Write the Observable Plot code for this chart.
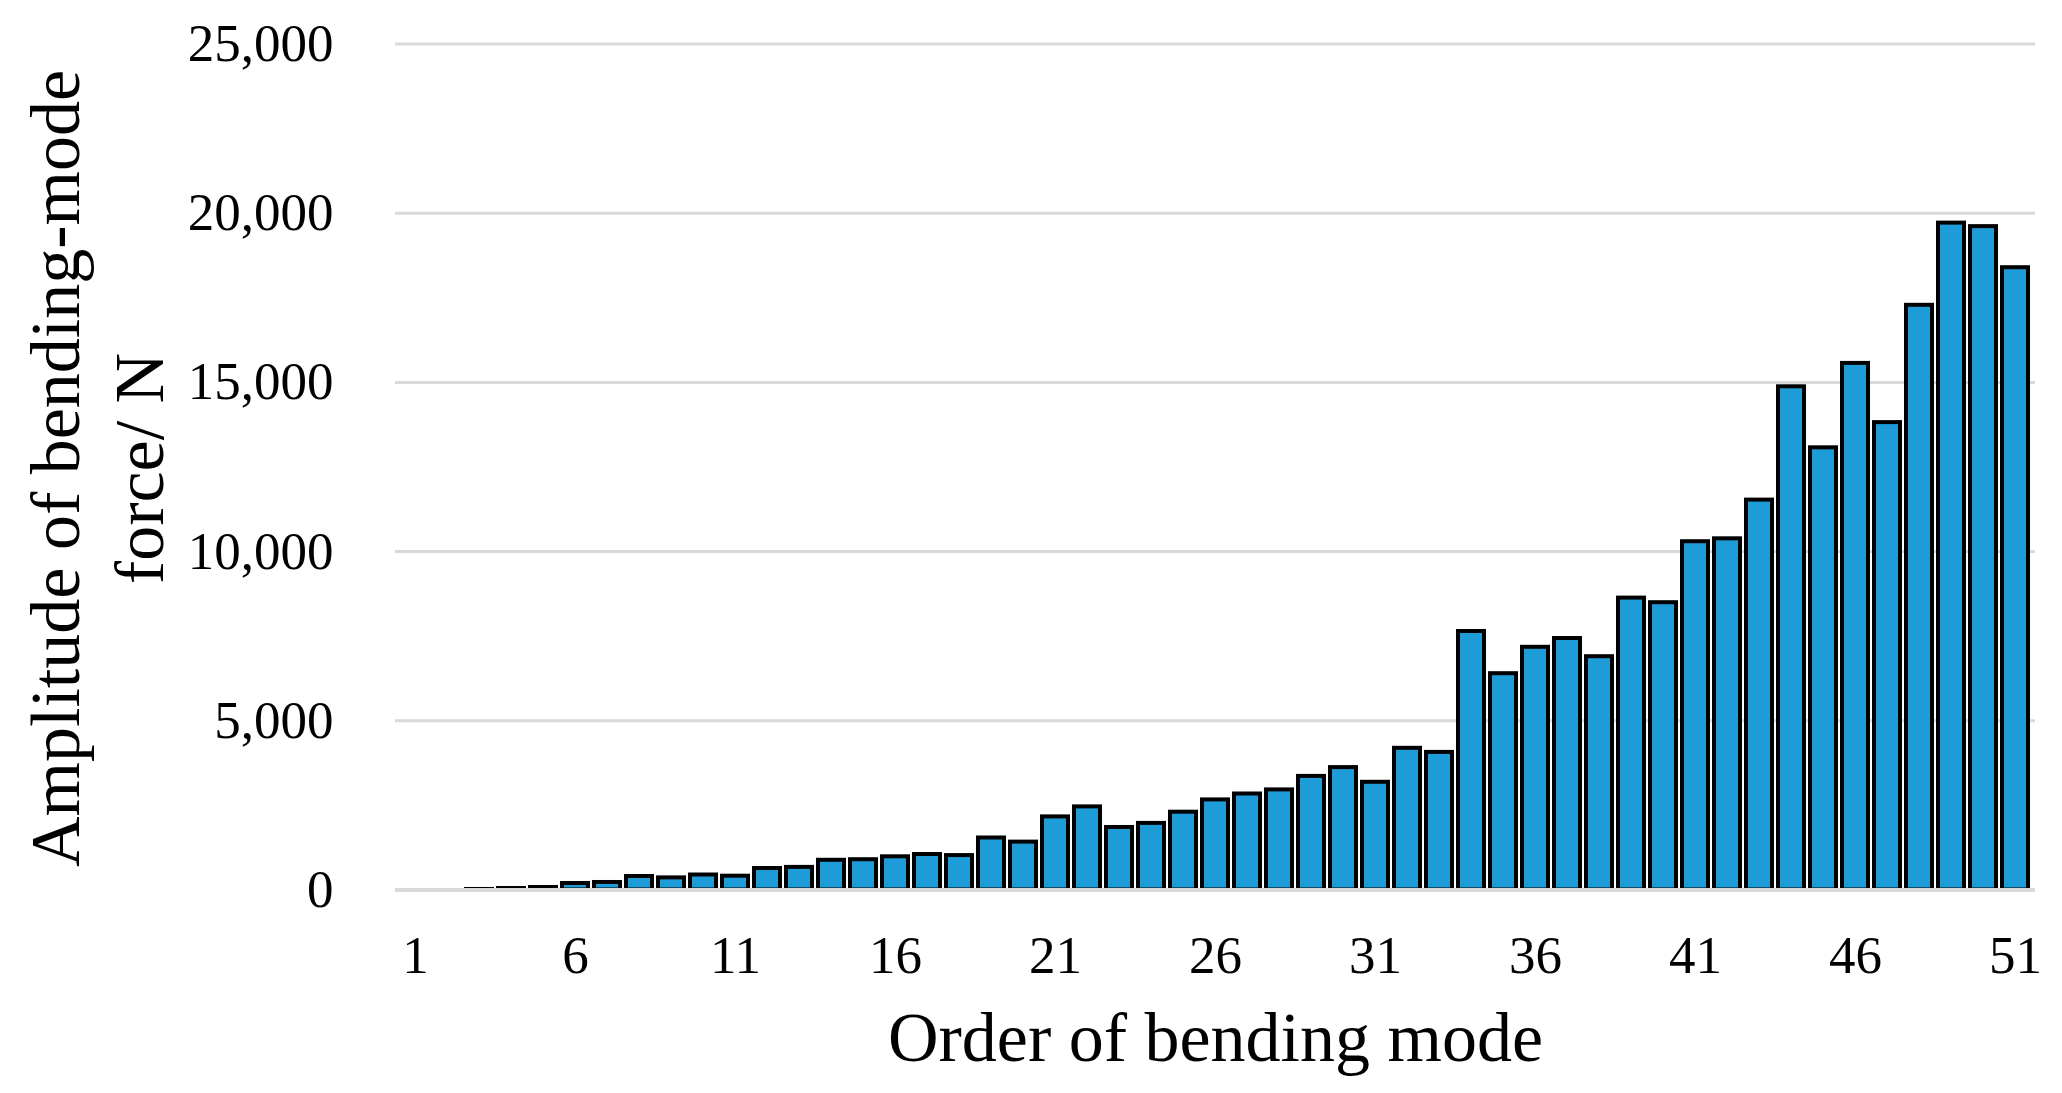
<!DOCTYPE html>
<html>
<head>
<meta charset="utf-8">
<script src="https://cdn.jsdelivr.net/npm/d3@7"></script>
<script src="https://cdn.jsdelivr.net/npm/@observablehq/plot@0.6"></script>
<style>
  html, body { margin: 0; padding: 0; background: #fff; overflow: hidden; }
</style>
</head>
<body>
<div id="chart"></div>
<script>
// Order of bending mode (categories)
const orders = Array.from({length: 51}, (_, i) => i + 1);
// Amplitude of bending-mode force / N
const amplitudes = [
  0, 0, 15, 44, 74, 192, 222, 399, 358, 443,
  408, 635, 668, 878, 895, 981, 1049, 1017, 1537, 1415,
  2160, 2456, 1847, 1968, 2299, 2662, 2837, 2958, 3357, 3617,
  3183, 4187, 4066, 7639, 6392, 7172, 7432, 6894, 8626, 8490,
  10292, 10378, 11522, 14870, 13067, 15561, 13812, 17278, 19707, 19603,
  18389
];
const xTicks = [1, 6, 11, 16, 21, 26, 31, 36, 41, 46, 51];
const yTicks = [0, 5000, 10000, 15000, 20000, 25000];
const xTitle = "Order of bending mode";
const yTitle = "Amplitude of bending-mode\nforce/ N";

const data = orders.map((o, i) => ({order: o, value: amplitudes[i]}));
const serif = "'Liberation Serif', 'Times New Roman', Times, serif";

const chart = Plot.plot({
  width: 2062,
  height: 1093,
  marginLeft: 395,
  marginRight: 27,
  marginTop: 43.5,
  marginBottom: 203.5,
  style: {fontFamily: serif, fontSize: "53px", color: "#000", background: "#fff"},
  x: {type: "band", domain: orders, paddingInner: 0.2, paddingOuter: 0.1},
  y: {domain: [0, 25000]},
  marks: [
    Plot.ruleY(yTicks.filter(d => d > 0), {stroke: "#d9d9d9", strokeWidth: 3}),
    Plot.barY(data, {x: "order", y: "value", fill: "#1d9cd8", stroke: "#000", strokeWidth: 4}),
    Plot.ruleY([0], {stroke: "#d9d9d9", strokeWidth: 4}),
    Plot.axisX({ticks: xTicks, tickSize: 0, tickPadding: 45, label: null, fontSize: 53, fill: "#000"}),
    Plot.axisY({ticks: yTicks, tickSize: 0, tickPadding: 62, tickFormat: d3.format(","), label: null, fontSize: 53, fill: "#000"}),
    Plot.text([xTitle], {frameAnchor: "bottom", lineAnchor: "middle", textAnchor: "middle", dy: 149, fontSize: 70, fill: "#000"}),
    Plot.text([yTitle], {frameAnchor: "left", lineAnchor: "middle", textAnchor: "middle", rotate: -90, dx: -301.5, dy: 1.5, fontSize: 70, lineHeight: 1.2, fill: "#000"})
  ]
});
document.getElementById("chart").appendChild(chart);
</script>
</body>
</html>
